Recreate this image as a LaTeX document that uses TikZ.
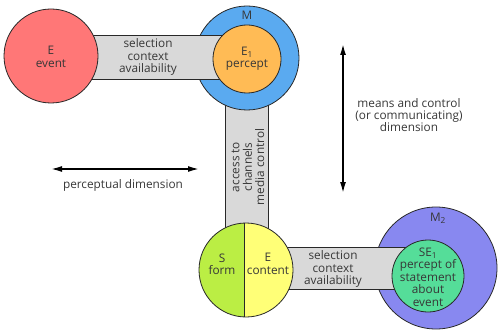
\documentclass[tikz,border=0pt]{standalone}
\usepackage{fontspec}
\setmainfont{Open Sans}
\usetikzlibrary{arrows.meta,calc}
\definecolor{ered}{RGB}{255,119,119}
\definecolor{mblue}{RGB}{90,170,240}
\definecolor{porange}{RGB}{255,187,85}
\definecolor{mlav}{RGB}{136,136,240}
\definecolor{smint}{RGB}{85,221,153}
\definecolor{slime}{RGB}{187,238,68}
\definecolor{syellow}{RGB}{255,255,119}
\definecolor{bargray}{RGB}{217,217,217}
\definecolor{edge}{RGB}{40,40,40}
\definecolor{txt}{RGB}{55,55,55}
\tikzset{
  disc/.style={circle, inner sep=0pt, draw=edge, line width=0.8pt, minimum size=#1},
  bar/.style={fill=bargray, draw=edge, line width=0.8pt},
  lbl/.style={align=center, text=txt, inner sep=0pt, font=\fontsize{11.8}{12.4}\selectfont},
  dimarrow/.style={line width=1.6pt, {Latex[length=11pt,width=6pt]}-{Latex[length=11pt,width=6pt]}}
}
\begin{document}
\begin{tikzpicture}[x=1pt,y=-1pt]
\useasboundingbox (0,0) rectangle (500,334);
\coordinate (cE) at (51,56);
\coordinate (cM) at (247,58);
\coordinate (cMi) at (247,59);
\coordinate (cS) at (246,270);
\coordinate (cM2) at (436,268);
\coordinate (cM2i) at (428,276);

% vertical bar
\draw[bar] ($(cM)+(-21.5,0)$) rectangle ($(cS)+(22.5,0)$);
% M outer
\node[disc=104pt, fill=mblue] (M) at (cM) {};
% top bar
\draw[bar] ($(cE)+(0,-21)$) rectangle ($(cMi)+(0,20)$);
% E circle
\node[disc=94pt, fill=ered] (E) at (cE) {};
% M inner
\node[disc=68pt, fill=porange] (Mi) at (cMi) {};

% M2 outer
\node[disc=122pt, fill=mlav] (M2) at (cM2) {};
% bottom bar
\draw[bar] ($(cS)+(0,-23)$) rectangle ($(cM2)+(0,21)$);
% S / E split circle
\begin{scope}
  \clip ($(cS)+(-1.5,-50)$) rectangle ($(cS)+(50,50)$);
  \fill[syellow] (cS) circle (47pt);
\end{scope}
\begin{scope}
  \clip ($(cS)+(-50,-50)$) rectangle ($(cS)+(-1.5,50)$);
  \fill[slime] (cS) circle (47pt);
\end{scope}
\node[disc=94pt] (S) at (cS) {};
\draw[edge, line width=0.8pt] ($(S.north)+(-1.5,0)$) -- ($(S.south)+(-1.5,0)$);
% M2 inner
\node[disc=72pt, fill=smint] (M2i) at (cM2i) {};

% texts
\node[lbl] at (51,57) {E\\event};
\node[lbl] at (247,15) {M};
\node[lbl] at (247,59) {E\textsubscript{1}\\percept};
\node[lbl] at (148,57) {selection\\context\\availability};
\node[lbl, rotate=90] at (248,167) {access to\\channels\\media control};
\node[lbl] at (222,264) {S\\form};
\node[lbl] at (268,264) {E\\content};
\node[lbl] at (333,269) {selection\\context\\availability};
\node[lbl] at (438,218) {M\textsubscript{2}};
\node[lbl] at (428,277) {SE\textsubscript{1}\\percept of\\statement\\about\\event};

% dimension arrows
\coordinate (vTop) at (343,44);
\coordinate (vBot) at (343,193);
\draw[dimarrow] (vTop) -- (vBot);
\node[lbl] at (409,115) {means and control\\(or communicating)\\dimension};
\coordinate (hL) at (51,169);
\coordinate (hR) at (199,169);
\draw[dimarrow] (hL) -- (hR);
\node[lbl] at (123,185) {perceptual dimension};
\end{tikzpicture}
\end{document}
